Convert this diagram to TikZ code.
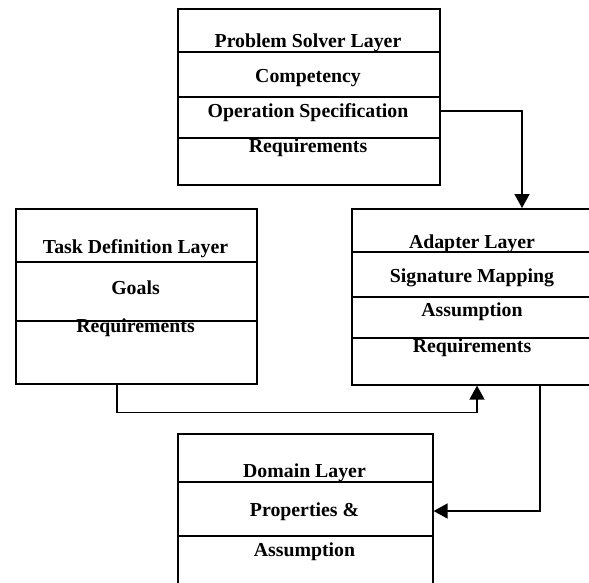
\documentclass[tikz,border=0pt]{standalone}
\usepackage{fontspec}
\setmainfont{Liberation Serif}
\usetikzlibrary{arrows.meta}
\begin{document}
\begin{tikzpicture}[x=1pt,y=-1pt,
  layerbox/.style={draw,line width=1.6pt,rectangle,anchor=north west,inner sep=0pt},
  divider/.style={line width=1.6pt},
  lbl/.style={font=\fontsize{19.8}{22}\selectfont\bfseries,inner sep=0pt},
  conn/.style={line width=1.6pt,-{Triangle[length=14pt,width=15pt]}}]
\clip (0,0) rectangle (589,582);
\fill[white] (0,0) rectangle (589,582);

% Problem Solver Layer
\node[layerbox,minimum width=262pt,minimum height=176pt] (ps) at (177,8) {};
\draw[divider] (ps.west |- 0,52) -- (ps.east |- 0,52);
\draw[divider] (ps.west |- 0,97) -- (ps.east |- 0,97);
\draw[divider] (ps.west |- 0,138) -- (ps.east |- 0,138);
\node[lbl] (psT) at (308,43) {Problem Solver Layer};
\node[lbl] (psC) at (308,78.5) {Competency};
\node[lbl] (psO) at (308,112.5) {Operation Specification};
\node[lbl] (psR) at (308,147.5) {Requirements};

% Adapter Layer
\node[layerbox,minimum width=243pt,minimum height=176pt] (ad) at (351,208) {};
\draw[divider] (ad.west |- 0,252) -- (ad.east |- 0,252);
\draw[divider] (ad.west |- 0,297) -- (ad.east |- 0,297);
\draw[divider] (ad.west |- 0,338) -- (ad.east |- 0,338);
\node[lbl] (adT) at (472,243.5) {Adapter Layer};
\node[lbl] (adS) at (472,277.5) {Signature Mapping};
\node[lbl] (adA) at (472,311.5) {Assumption};
\node[lbl] (adR) at (472,347.5) {Requirements};

% Task Definition Layer
\node[layerbox,minimum width=241pt,minimum height=175pt] (td) at (15,208) {};
\draw[divider] (td.west |- 0,262) -- (td.east |- 0,262);
\draw[divider] (td.west |- 0,321) -- (td.east |- 0,321);
\node[lbl] (tdT) at (135.5,248.5) {Task Definition Layer};
\node[lbl] (tdG) at (135.5,287.5) {Goals};
\node[lbl] (tdR) at (135.5,327.5) {Requirements};

% Domain Layer
\node[layerbox,minimum width=255pt,minimum height=170pt] (dm) at (177,433) {};
\draw[divider] (dm.west |- 0,482) -- (dm.east |- 0,482);
\draw[divider] (dm.west |- 0,536) -- (dm.east |- 0,536);
\node[lbl] (dmT) at (304.5,472.5) {Domain Layer};
\node[lbl] (dmP) at (304.5,511.5) {Properties \&};
\node[lbl] (dmA) at (304.5,551.5) {Assumption};

% Connectors (kept on whole-pixel rows so they stay crisp)
\draw[conn] ([yshift=1.5pt]psO -| ps.east) -| (ad.north -| 522,0);
\draw[conn] (td.south -| 117,0) -- ++(0,28) -| (ad.south -| 477,0);
\draw[conn] (ad.south -| 540,0) |- ([yshift=0.5pt]dmP -| dm.east);
\end{tikzpicture}
\end{document}
